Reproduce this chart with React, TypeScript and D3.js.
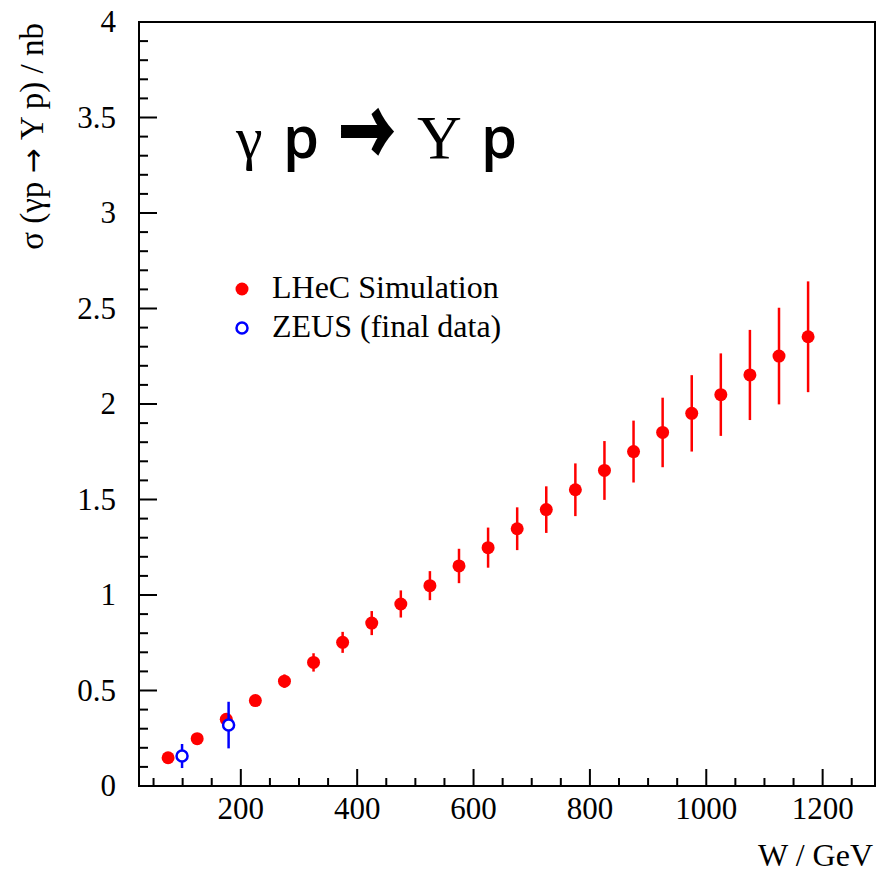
import React from "react";
import * as d3 from "d3";

const lhecW = [75, 125, 175, 225, 275, 325, 375, 425, 475, 525, 575, 625, 675, 725, 775, 825, 875, 925, 975, 1025, 1075, 1125, 1175];
const lhecSigma = [0.148, 0.248, 0.349, 0.447, 0.549, 0.647, 0.752, 0.853, 0.953, 1.049, 1.152, 1.248, 1.347, 1.447, 1.551, 1.652, 1.751, 1.851, 1.951, 2.049, 2.152, 2.251, 2.352];
const lhecErr = [0.005, 0.01, 0.015, 0.02, 0.035, 0.048, 0.055, 0.063, 0.071, 0.076, 0.09, 0.105, 0.112, 0.122, 0.138, 0.154, 0.162, 0.182, 0.2, 0.216, 0.236, 0.253, 0.29];

const zeusW = [99, 179];
const zeusSigma = [0.157, 0.319];
const zeusErr = [0.063, 0.122];

const xMajorTicks = [200, 400, 600, 800, 1000, 1200];
const yMajorTicks = [0, 0.5, 1, 1.5, 2, 2.5, 3, 3.5, 4];

const legendLabels = ["LHeC Simulation", "ZEUS (final data)"];

const W = 882;
const H = 875;
const L = 139, R = 875, T = 22, B = 786;

export default function App() {
  const x = d3.scaleLinear().domain([25, 1290]).range([L, R]);
  const y = d3.scaleLinear().domain([0, 4]).range([B, T]);
  const xMinor = d3.range(50, 1290, 50).filter((v) => !xMajorTicks.includes(v));
  const yMinor = d3.range(0, 41).map((i) => i / 10).filter((v) => Math.round(v * 10) % 5 !== 0);
  const serif = "'Liberation Serif', 'Times New Roman', serif";
  const sans = "'Open Sans', 'DejaVu Sans', sans-serif";
  const red = "#ff0000";
  const blue = "#0000ff";

  return (
    <svg width={W} height={H} style={{ position: "absolute", left: 0, top: 0, background: "#fff" }}>
      <rect x={0} y={0} width={W} height={H} fill="#fff" />
      {/* frame */}
      <rect x={L} y={T} width={R - L} height={B - T} fill="none" stroke="#000" strokeWidth={2} />
      {/* x ticks */}
      {xMajorTicks.map((v) => (
        <line key={"xM" + v} x1={x(v)} x2={x(v)} y1={B} y2={B - 17} stroke="#000" strokeWidth={2} />
      ))}
      {xMinor.map((v) => (
        <line key={"xm" + v} x1={x(v)} x2={x(v)} y1={B} y2={B - 8} stroke="#000" strokeWidth={2} />
      ))}
      {xMajorTicks.map((v) => (
        <text key={"xl" + v} x={x(v)} y={B + 33} textAnchor="middle" fontFamily={serif} fontSize={31} fill="#000">
          {v}
        </text>
      ))}
      {/* y ticks */}
      {yMajorTicks.map((v) => (
        <line key={"yM" + v} x1={L} x2={L + 18} y1={y(v)} y2={y(v)} stroke="#000" strokeWidth={2} />
      ))}
      {yMinor.map((v) => (
        <line key={"ym" + v} x1={L} x2={L + 9} y1={y(v)} y2={y(v)} stroke="#000" strokeWidth={2} />
      ))}
      {yMajorTicks.map((v) => (
        <text key={"yl" + v} x={116} y={y(v) + 10} textAnchor="end" fontFamily={serif} fontSize={31} fill="#000">
          {String(v)}
        </text>
      ))}
      {/* axis titles */}
      <text x={873} y={866} textAnchor="end" fontFamily={serif} fontSize={32} fill="#000">W / GeV</text>
      <text transform={`translate(43, ${T + 1}) rotate(-90)`} textAnchor="end" fontFamily={serif} fontSize={33} fill="#000">
        σ (γp <tspan fontFamily="'DejaVu Sans', sans-serif" fontSize={30}>→</tspan> Υ p) / nb
      </text>
      {/* big reaction label */}
      <text x={236} y={158} fontFamily={serif} fontSize={60} fill="#000">γ</text>
      <text x={283} y={158} fontFamily={sans} fontWeight={600} fontSize={58} fill="#000">p</text>
      <text transform="translate(340, 136) scale(0.9, 1.5)" x={0} y={20} fontFamily="'Noto Sans CJK JP', sans-serif" fontWeight={700} fontSize={60} fill="#000" stroke="#000" strokeWidth={2.5}>→</text>
      <text x={417} y={158} fontFamily={serif} fontSize={62} fill="#000">Υ</text>
      <text x={481} y={158} fontFamily={sans} fontWeight={600} fontSize={58} fill="#000">p</text>
      {/* legend */}
      <circle cx={242} cy={289} r={6.5} fill={red} />
      <text x={272} y={298} fontFamily={serif} fontSize={32} fill="#000">{legendLabels[0]}</text>
      <circle cx={242} cy={328} r={5.5} fill="none" stroke={blue} strokeWidth={2.5} />
      <text x={272} y={337} fontFamily={serif} fontSize={32} fill="#000">{legendLabels[1]}</text>
      {/* LHeC data */}
      {lhecW.map((w, i) => (
        <g key={"l" + w}>
          <line x1={x(w)} x2={x(w)} y1={y(lhecSigma[i] - lhecErr[i])} y2={y(lhecSigma[i] + lhecErr[i])} stroke={red} strokeWidth={2.5} />
          <circle cx={x(w)} cy={y(lhecSigma[i])} r={6.5} fill={red} />
        </g>
      ))}
      {/* ZEUS data */}
      {zeusW.map((w, i) => (
        <g key={"z" + w}>
          <line x1={x(w)} x2={x(w)} y1={y(zeusSigma[i] - zeusErr[i])} y2={y(zeusSigma[i] + zeusErr[i])} stroke={blue} strokeWidth={2.5} />
          <circle cx={x(w)} cy={y(zeusSigma[i])} r={5.5} fill="#fff" stroke={blue} strokeWidth={2.5} />
        </g>
      ))}
    </svg>
  );
}
